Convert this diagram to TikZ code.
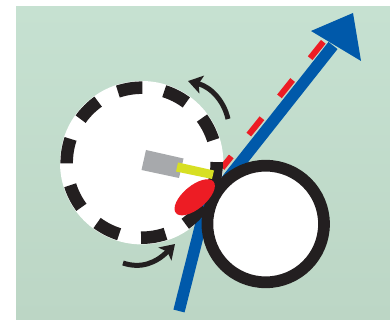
\documentclass[tikz,border=0pt]{standalone}
\usepackage{tikz}
\usetikzlibrary{arrows.meta}
\definecolor{bandblue}{HTML}{0059AA}
\definecolor{inkblack}{HTML}{231F20}
\definecolor{padred}{HTML}{ED1C24}
\definecolor{armyellow}{HTML}{D7DF23}
\definecolor{bodygrey}{HTML}{A7A9AC}
\definecolor{skytop}{HTML}{C6E1D1}
\definecolor{skybottom}{HTML}{BCD6C5}
\tikzset{
  spin/.style={line width=5pt,draw=inkblack,-{Stealth[length=14pt,width=18pt,inset=3pt]}},
  band/.style={line width=11.5pt,draw=bandblue}
}
\begin{document}
\begin{tikzpicture}[>=Stealth,x=1pt,y=-1pt]
            \useasboundingbox (0,0) rectangle (390,320);
            \fill [top color=skytop,bottom color=skybottom] (16,7) rectangle (390,320);
            \fill [white] (141.7,162.7) circle (81.7);
            \draw [line width=6pt,draw=padred,dash pattern=on 21pt off 28pt] (323.3,41.8) -- (222,168);
            \draw [band] (179,311) -- (204,212) -- (229,177) -- (333,45.5);
            \fill [bandblue] (353,13) -- (311,31) -- (361,61) -- cycle;
            \foreach \a in {27,63,99,135,171,207,243,279,315,351}
                \draw [line width=12.5pt,draw=inkblack] ({141.7+75*cos(\a-9.5)},{162.7-75*sin(\a-9.5)}) arc [start angle=-\a+9.5,end angle=-\a-9.5,radius=75];
            \draw [line width=11.7pt,draw=inkblack,fill=white] (265.7,224) circle (58.3);
            \fill [bodygrey] (146,150) -- (183.5,158.5) -- (179,178) -- (141.5,170) -- cycle;
            \fill [armyellow] (178,162.5) -- (214,170.5) -- (212,179) -- (176,171.5) -- cycle;
            \fill [padred,rotate around={40:(194.7,197.3)}] (194.7,197.3) ellipse (24.5 and 11.5);
            \draw [spin] (228,119) .. controls (224,101) and (211,87) .. (188,81);
            \draw [spin] (123,263) .. controls (141,269) and (156,263) .. (175,244);
        \end{tikzpicture}
\end{document}
